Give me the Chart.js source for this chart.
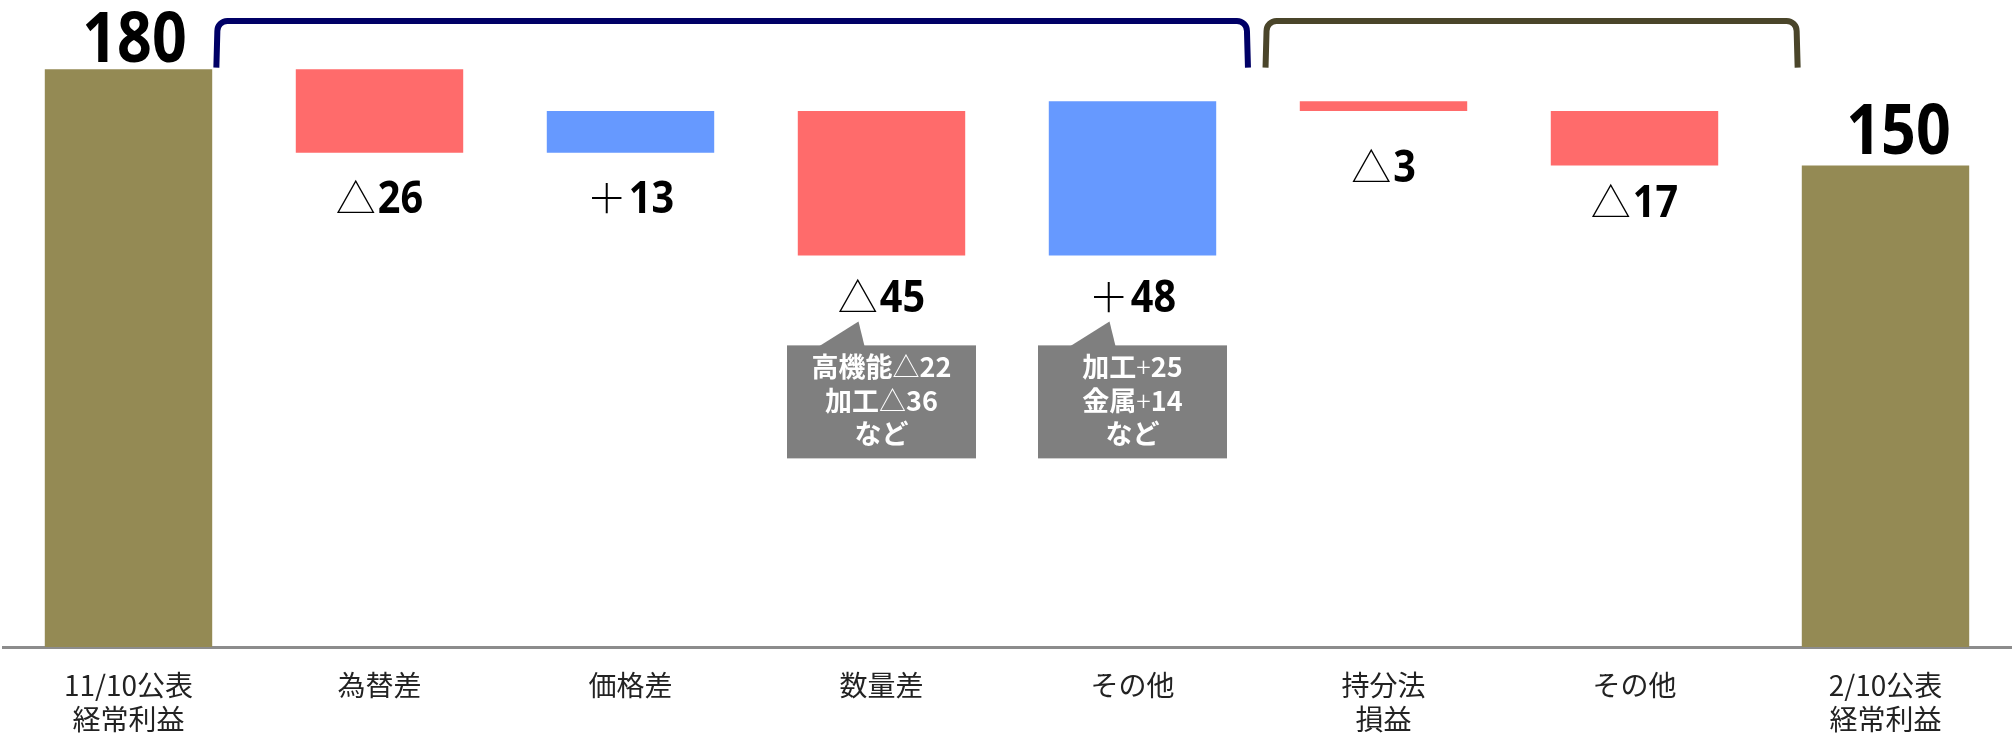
<!DOCTYPE html>
<html lang="ja">
<head>
<meta charset="utf-8">
<title>経常利益 増減要因</title>
<script src="https://cdn.jsdelivr.net/npm/chart.js@4.4.1/dist/chart.umd.min.js"></script>
<style>
    html, body { margin: 0; padding: 0; background: #fff; overflow: hidden; }
    #wrap { width: 2013px; height: 733px; }
</style>
</head>
<body>
<div id="wrap"><canvas id="bridgeChart" width="2013" height="733"></canvas></div>
<script>
"use strict";

// --- data ---
const categories = [
    ['11/10公表', '経常利益'], '為替差', '価格差', '数量差', 'その他', ['持分法', '損益'], 'その他', ['2/10公表', '経常利益']
];
const startTotal = 180;
const changes = [-26, 13, -45, 48, -3, -17];
const endTotal = 150;
const noteLines = {
    3: ['高機能△22', '加工△36', 'など'],
    4: ['加工+25', '金属+14', 'など']
};

const COLOR_TOTAL = '#948A54';
const COLOR_DOWN = '#FF6B6B';
const COLOR_UP = '#6699FF';

// build floating [low, high] pairs for the waterfall
function buildSteps() {
    const steps = [[0, startTotal]];
    const colors = [COLOR_TOTAL];
    let running = startTotal;
    changes.forEach(v => {
        const next = running + v;
        steps.push([Math.min(running, next), Math.max(running, next)]);
        colors.push(v < 0 ? COLOR_DOWN : COLOR_UP);
        running = next;
    });
    steps.push([0, endTotal]);
    colors.push(COLOR_TOTAL);
    return { steps, colors };
}

function fmtChange(v) {
    return v < 0 ? { sign: '△', num: String(-v) } : { sign: '＋', num: String(v) };
}

// draws text runs side by side, centred on cx
function drawRuns(ctx, runs, cx, baseline) {
    let total = 0;
    runs.forEach(r => {
        ctx.font = r.font;
        r.w = ctx.measureText(r.text).width * (r.sx || 1);
        total += r.w + (r.gap || 0);
    });
    let x = cx - total / 2;
    runs.forEach(r => {
        ctx.save();
        ctx.font = r.font;
        ctx.translate(x, baseline);
        ctx.scale(r.sx || 1, 1);
        ctx.fillText(r.text, 0, 0);
        ctx.restore();
        x += r.w + (r.gap || 0);
    });
}

// splits a note line so that △ / + use the thin face
function noteRuns(text, boldFont, thinFont) {
    const runs = [];
    for (const ch of text) {
        const thin = ch === '△' || ch === '+';
        const font = thin ? thinFont : boldFont;
        const last = runs[runs.length - 1];
        if (last && last.font === font) last.text += ch;
        else runs.push({ text: ch, font });
    }
    return runs;
}

function bracketPath(ctx, x1, x2, yTop, yBottom, r) {
    ctx.beginPath();
    ctx.moveTo(x1, yBottom);
    ctx.lineTo(x1 + 1, yTop + r);
    ctx.arcTo(x1 + 1, yTop, x1 + 1 + r, yTop, r);
    ctx.lineTo(x2 - 1 - r, yTop);
    ctx.arcTo(x2 - 1, yTop, x2 - 1, yTop + r, r);
    ctx.lineTo(x2, yBottom);
    ctx.stroke();
}

const bridgeNotes = {
    id: 'bridgeNotes',
    afterDatasetsDraw(chart, args, opts) {
        const ctx = chart.ctx;
        const xs = chart.scales.x;
        const ys = chart.scales.y;
        const meta = chart.getDatasetMeta(0);
        const last = categories.length - 1;

        ctx.save();
        ctx.textAlign = 'left';
        ctx.textBaseline = 'alphabetic';
        ctx.fillStyle = '#000';

        // totals above the first and last bar
        [[0, startTotal], [last, endTotal]].forEach(([i, v], k) => {
            const bar = meta.data[i];
            const shift = opts.totalShift[k];
            drawRuns(ctx, [{ text: String(v), font: 'bold 70px "Noto Sans"', sx: 0.87 }],
                bar.x + shift[0], ys.getPixelForValue(v) + shift[1]);
        });

        // change labels under each floating bar
        changes.forEach((v, j) => {
            const i = j + 1;
            const bar = meta.data[i];
            const bottom = Math.max(bar.y, bar.base);
            const cy = bottom + opts.changeGap[j];
            const f = fmtChange(v);
            ctx.fillStyle = '#000';
            drawRuns(ctx, [
                { text: f.sign, font: '300 40px "Noto Sans CJK JP"', gap: 2 },
                { text: f.num, font: 'bold 45px "Noto Sans"', sx: 0.88 }
            ], bar.x, cy + 16);

            const lines = noteLines[i];
            if (!lines) return;
            const top = cy + 49;
            const w = 189, h = 113;
            ctx.fillStyle = '#7F7F7F';
            ctx.fillRect(bar.x - w / 2, top, w, h);
            ctx.beginPath();
            ctx.moveTo(bar.x - 62, top + 0.5);
            ctx.lineTo(bar.x - 23, top - 24);
            ctx.lineTo(bar.x - 17, top + 0.5);
            ctx.closePath();
            ctx.fill();
            ctx.fillStyle = '#FFFFFF';
            lines.forEach((line, n) => {
                drawRuns(ctx, noteRuns(line, 'bold 27px "Noto Sans CJK JP"', '300 27px "Noto Sans CJK JP"'),
                    bar.x, top + 22 + n * 33.5 + 10);
            });
        });

        // group brackets over the change bars
        ctx.lineWidth = 6;
        ctx.lineJoin = 'round';
        opts.groups.forEach(g => {
            ctx.strokeStyle = g.color;
            bracketPath(ctx, xs.getPixelForValue(g.from), xs.getPixelForValue(g.to),
                ys.getPixelForValue(195), ys.getPixelForValue(180.5), 10);
        });
        ctx.restore();
    }
};

const { steps, colors } = buildSteps();

new Chart(document.getElementById('bridgeChart'), {
    type: 'bar',
    data: {
        labels: categories,
        datasets: [{
            data: steps,
            backgroundColor: colors,
            borderWidth: 0,
            borderSkipped: false,
            barPercentage: 0.667,
            categoryPercentage: 1
        }]
    },
    options: {
        responsive: false,
        animation: false,
        events: [],
        layout: { padding: { top: 5, left: 3, right: 2, bottom: 0 } },
        plugins: {
            legend: { display: false },
            tooltip: { enabled: false },
            bridgeNotes: {
                totalShift: [[6, -7], [13, -12]],
                changeGap: [44, 44, 41, 41, 55, 35],
                groups: [
                    { from: 0.35, to: 4.46, color: '#000066' },
                    { from: 4.53, to: 6.65, color: '#4A452A' }
                ]
            }
        },
        scales: {
            x: {
                z: 1,
                grid: { display: false, drawTicks: false },
                border: { display: true, color: '#8C8C8C', width: 3 },
                ticks: {
                    color: '#222',
                    padding: 22,
                    maxRotation: 0,
                    autoSkip: false,
                    font: { family: '"Noto Sans CJK JP"', size: 28, lineHeight: 1.2 }
                },
                afterFit: scale => { scale.height = 86; }
            },
            y: { display: false, min: 0, max: 200 }
        }
    },
    plugins: [bridgeNotes]
});
</script>
</body>
</html>
